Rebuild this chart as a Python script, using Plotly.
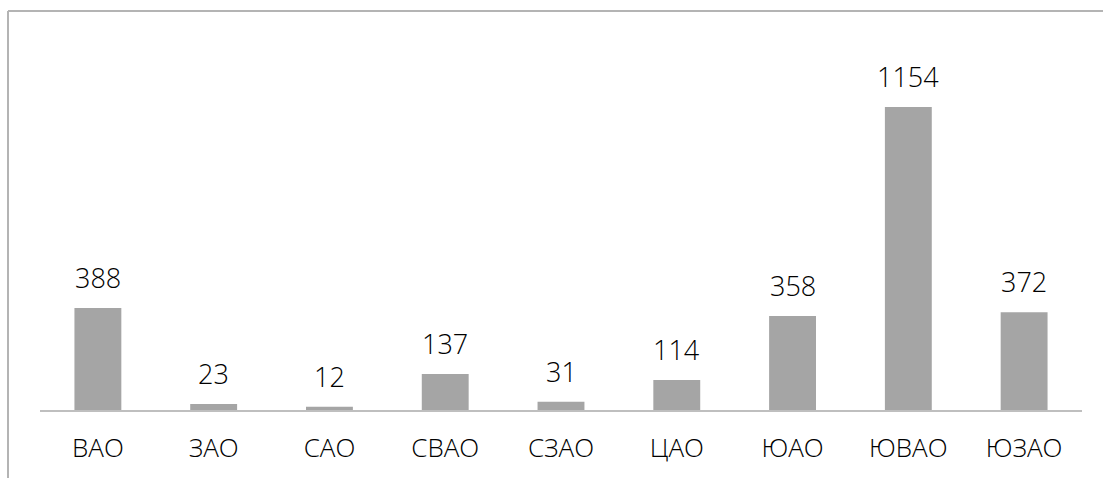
import plotly.graph_objects as go

categories = ["ВАО", "ЗАО", "САО", "СВАО", "СЗАО", "ЦАО", "ЮАО", "ЮВАО", "ЮЗАО"]
values = [388, 23, 12, 137, 31, 114, 358, 1154, 372]

W, H = 1103, 478
ml, mr, mt, mb = 40, 21, 20, 68
font_family = "'Open Sans', Lato, sans-serif"

fig = go.Figure()
fig.add_trace(go.Bar(
    x=categories, y=values,
    marker=dict(color="#a5a5a5", line=dict(width=0)),
    width=0.405,
    hoverinfo="x+y",
))

for c, v in zip(categories, values):
    fig.add_annotation(x=c, y=v, text=str(v), showarrow=False,
                       yanchor="bottom", yshift=10,
                       font=dict(family=font_family, size=27, color="#000000", weight=300))

pw = W - ml - mr
ph = H - mt - mb
left_x = (8 - ml) / pw
top_y = (H - mb - 11) / ph
bottom_y = -(mb) / ph
right_x = (W - ml) / pw
fig.add_shape(type="line", xref="paper", yref="paper",
              x0=left_x, x1=left_x, y0=bottom_y, y1=top_y,
              line=dict(color="#b4b4b4", width=2))
fig.add_shape(type="line", xref="paper", yref="paper",
              x0=left_x, x1=right_x, y0=top_y, y1=top_y,
              line=dict(color="#b4b4b4", width=2))

fig.update_layout(
    width=W, height=H,
    margin=dict(l=ml, r=mr, t=mt, b=mb),
    paper_bgcolor="white", plot_bgcolor="white",
    showlegend=False,
    xaxis=dict(showline=True, linecolor="#bfbfbf", linewidth=1.5,
               ticks="", ticklabelstandoff=14, showgrid=False,
               tickfont=dict(family=font_family, size=26, color="#000000", weight=300)),
    yaxis=dict(range=[0, 1485], visible=False, showgrid=False, zeroline=False),
)

fig.write_html("out.html")
